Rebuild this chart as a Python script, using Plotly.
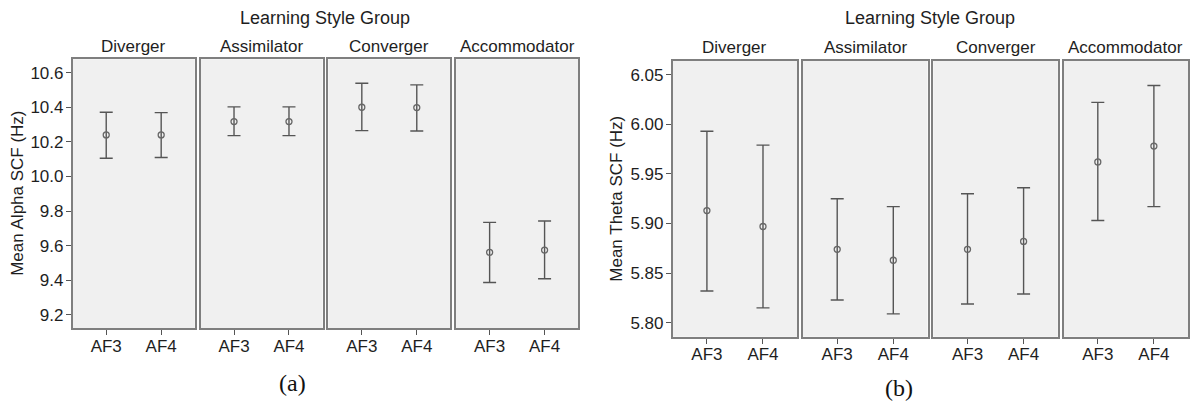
import plotly.graph_objects as go

groups = ["Diverger", "Assimilator", "Converger", "Accommodator"]
channels = ["AF3", "AF4"]

# (a) Mean Alpha SCF (Hz): means and 95% CI bounds per group, [AF3, AF4]
alpha_mean = [[10.240, 10.240], [10.317, 10.317], [10.400, 10.398], [9.562, 9.575]]
alpha_upper = [[10.371, 10.369], [10.402, 10.402], [10.539, 10.529], [9.735, 9.743]]
alpha_lower = [[10.105, 10.110], [10.236, 10.236], [10.265, 10.263], [9.388, 9.409]]
alpha_ticks = [9.2, 9.4, 9.6, 9.8, 10.0, 10.2, 10.4, 10.6]

# (b) Mean Theta SCF (Hz)
theta_mean = [[5.913, 5.897], [5.874, 5.863], [5.874, 5.882], [5.962, 5.978]]
theta_upper = [[5.993, 5.979], [5.925, 5.917], [5.930, 5.936], [6.022, 6.039]]
theta_lower = [[5.832, 5.815], [5.823, 5.809], [5.819, 5.829], [5.903, 5.917]]
theta_ticks = [5.80, 5.85, 5.90, 5.95, 6.00, 6.05]

W, H = 1190, 405
FONT = "Liberation Sans, Arial, sans-serif"
TXT = "#1e1e1e"
LINE = "#7f7f7f"
BAR = "#555555"
FS = 17

fig = go.Figure()

charts = [
    dict(mean=alpha_mean, up=alpha_upper, lo=alpha_lower, ticks=alpha_ticks,
         tickfmt=".1f", yrange=[9.123, 10.677], x0=72.7, w=122.0, step=127.8,
         top=59.3, bot=328.3, ytitle="Mean Alpha SCF (Hz)", ytx=18,
         gtitle_y=18, ptitle_y=46.5, label="(a)", lab_x=292, lab_y=383),
    dict(mean=theta_mean, up=theta_upper, lo=theta_lower, ticks=theta_ticks,
         tickfmt=".2f", yrange=[5.786, 6.064], x0=672.7, w=124.5, step=130.3,
         top=60.7, bot=336.7, ytitle="Mean Theta SCF (Hz)", ytx=617,
         gtitle_y=18, ptitle_y=48, label="(b)", lab_x=899, lab_y=388),
]

k = 0
for c in charts:
    for g, name in enumerate(groups):
        k += 1
        xa = "x" if k == 1 else f"x{k}"
        ya = "y" if k == 1 else f"y{k}"
        means = c["mean"][g]
        up = [u - m for u, m in zip(c["up"][g], means)]
        lo = [m - l for m, l in zip(means, c["lo"][g])]
        fig.add_trace(go.Scatter(
            x=[0, 1], y=means, mode="markers", xaxis=xa, yaxis=ya,
            marker=dict(symbol="circle-open", size=6, color="#666666", line=dict(width=1.3)),
            error_y=dict(type="data", symmetric=False, array=up, arrayminus=lo,
                         color=BAR, thickness=1.4, width=6.5),
            showlegend=False, hoverinfo="skip"))
        left = c["x0"] + g * c["step"]
        right = left + c["w"]
        xd = [left / W, right / W]
        yd = [1 - c["bot"] / H, 1 - c["top"] / H]
        xkey = "xaxis" if k == 1 else f"xaxis{k}"
        ykey = "yaxis" if k == 1 else f"yaxis{k}"
        fig.layout[xkey] = dict(
            domain=xd, anchor=ya, range=[-0.61, 1.61], tickvals=[0, 1], ticktext=channels,
            showgrid=False, zeroline=False, showline=True, mirror=True, linecolor=LINE,
            linewidth=1.6, ticks="outside", ticklen=5, tickcolor=BAR, tickwidth=1.2,
            ticklabelstandoff=-4,
            tickfont=dict(family=FONT, size=FS, color=TXT), fixedrange=True)
        first = g == 0
        fig.layout[ykey] = dict(
            domain=yd, anchor=xa, range=c["yrange"], tickvals=c["ticks"],
            tickformat=c["tickfmt"], showticklabels=first, ticks="outside" if first else "",
            ticklen=5, tickcolor=BAR, tickwidth=1.2, ticklabelstandoff=-1,
            showgrid=False, zeroline=False, showline=True, mirror=True, linecolor=LINE,
            linewidth=1.6, tickfont=dict(family=FONT, size=FS, color=TXT), fixedrange=True)
        fig.add_annotation(x=(left + right) / 2 / W, y=1 - c["ptitle_y"] / H,
                           xref="paper", yref="paper", text=name, showarrow=False,
                           xanchor="center", yanchor="middle",
                           font=dict(family=FONT, size=FS, color=TXT))
    gl = c["x0"]
    gr = c["x0"] + 3 * c["step"] + c["w"]
    fig.add_annotation(x=(gl + gr) / 2 / W, y=1 - c["gtitle_y"] / H, xref="paper", yref="paper",
                       text="Learning Style Group", showarrow=False, xanchor="center",
                       yanchor="middle", font=dict(family=FONT, size=18, color=TXT))
    fig.add_annotation(x=c["ytx"] / W, y=1 - (c["top"] + c["bot"]) / 2 / H, xref="paper",
                       yref="paper", text=c["ytitle"], showarrow=False, textangle=-90,
                       xanchor="center", yanchor="middle",
                       font=dict(family=FONT, size=FS, color=TXT))
    fig.add_annotation(x=c["lab_x"] / W, y=1 - c["lab_y"] / H, xref="paper", yref="paper",
                       text=c["label"], showarrow=False, xanchor="center", yanchor="middle",
                       font=dict(family="Liberation Serif, Times New Roman, serif", size=24,
                                 color="#111111"))

fig.update_layout(width=W, height=H, margin=dict(l=0, r=0, t=0, b=0),
                  plot_bgcolor="#f0f0f0", paper_bgcolor="white", showlegend=False)

fig.write_html("out.html", config={"displayModeBar": False},
               post_script="document.body.style.margin='0';document.body.style.padding='0';"
                           "document.body.style.overflow='hidden';")
